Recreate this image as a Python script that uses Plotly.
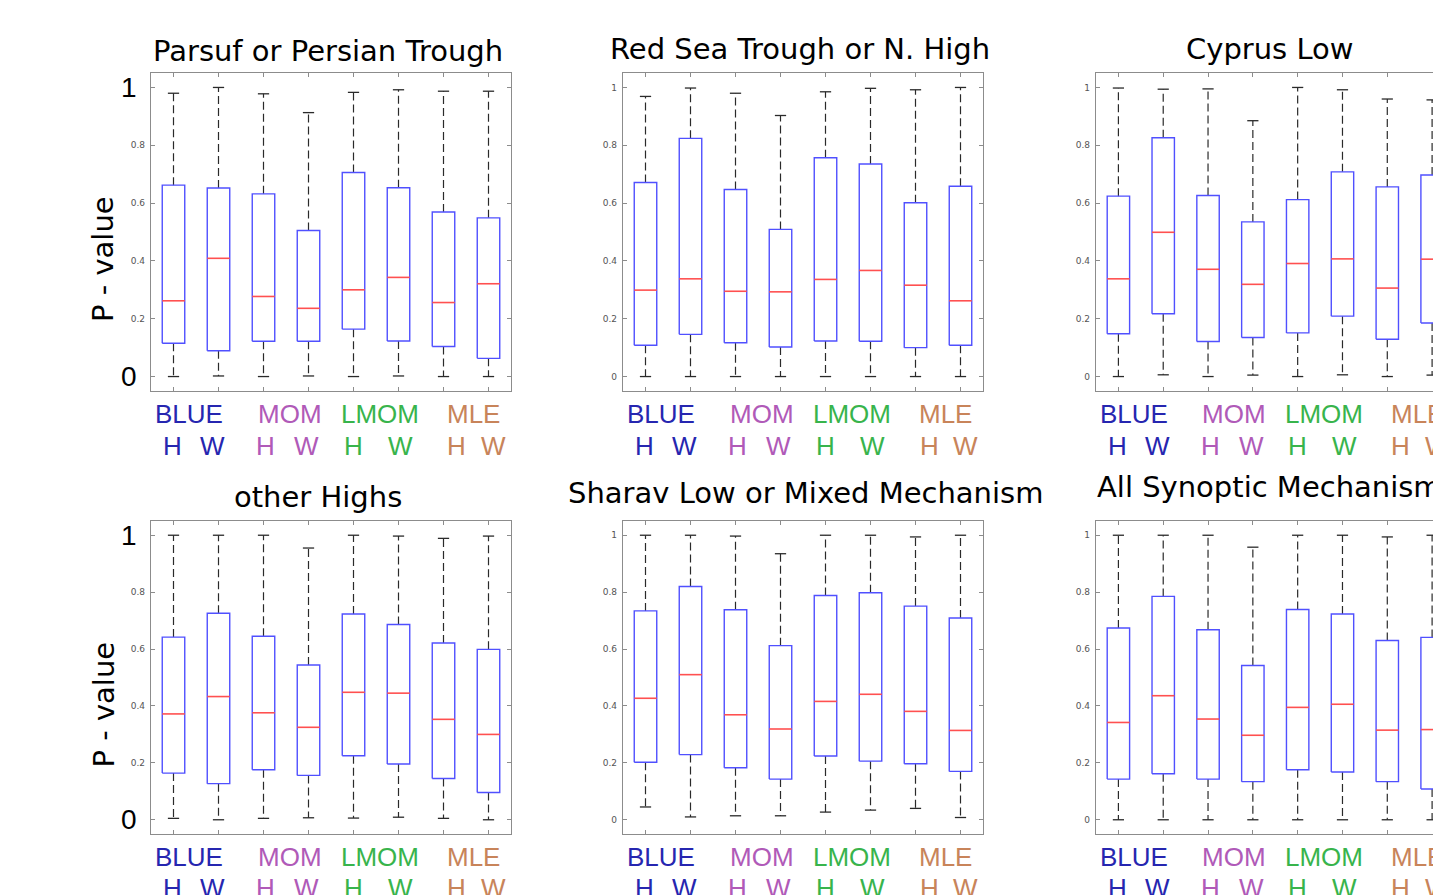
import plotly.graph_objects as go

# ---------------- data ----------------
TITLES = ["Parsuf or Persian Trough", "Red Sea Trough or N. High", "Cyprus Low",
          "other Highs", "Sharav Low or Mixed Mechanism", "All Synoptic Mechanisms"]
METHODS = ["BLUE", "MOM", "LMOM", "MLE"]
SUBLABELS = ["H", "W"]
POSITIONS = [1, 2, 3, 4, 5, 6, 7, 8]
Y_TICKS = [0, 0.2, 0.4, 0.6, 0.8, 1]
Y_TICK_TEXT = ["0", "0.2", "0.4", "0.6", "0.8", "1"]

# Parsuf or Persian Trough
P1_UPPER = [0.980, 1.000, 0.978, 0.913, 0.983, 0.992, 0.987, 0.987]
P1_Q3 = [0.662, 0.652, 0.632, 0.505, 0.706, 0.653, 0.569, 0.549]
P1_MEDIAN = [0.262, 0.409, 0.277, 0.236, 0.300, 0.343, 0.256, 0.321]
P1_Q1 = [0.115, 0.089, 0.122, 0.122, 0.164, 0.123, 0.104, 0.063]
P1_LOWER = [0.000, 0.002, 0.000, 0.002, 0.000, 0.002, 0.000, 0.000]

# Red Sea Trough or N. High
P2_UPPER = [0.969, 0.998, 0.980, 0.903, 0.985, 0.997, 0.992, 1.000]
P2_Q3 = [0.671, 0.824, 0.647, 0.509, 0.757, 0.735, 0.601, 0.658]
P2_MEDIAN = [0.299, 0.338, 0.295, 0.293, 0.336, 0.367, 0.316, 0.262]
P2_Q1 = [0.108, 0.146, 0.117, 0.102, 0.123, 0.122, 0.100, 0.108]
P2_LOWER = [0.000, 0.000, 0.000, 0.000, 0.000, 0.000, 0.000, 0.000]

# Cyprus Low
P3_UPPER = [0.998, 0.994, 0.995, 0.885, 1.000, 0.992, 0.960, 0.957]
P3_Q3 = [0.624, 0.826, 0.626, 0.535, 0.612, 0.708, 0.656, 0.697]
P3_MEDIAN = [0.338, 0.499, 0.371, 0.319, 0.391, 0.407, 0.306, 0.406]
P3_Q1 = [0.148, 0.217, 0.121, 0.135, 0.151, 0.209, 0.129, 0.185]
P3_LOWER = [0.000, 0.006, 0.000, 0.005, 0.000, 0.006, 0.000, 0.005]

# other Highs
P4_UPPER = [1.000, 1.000, 1.000, 0.955, 1.000, 0.997, 0.989, 0.997]
P4_Q3 = [0.642, 0.726, 0.645, 0.544, 0.723, 0.686, 0.621, 0.599]
P4_MEDIAN = [0.372, 0.433, 0.376, 0.325, 0.448, 0.445, 0.353, 0.300]
P4_Q1 = [0.164, 0.127, 0.176, 0.156, 0.225, 0.196, 0.145, 0.096]
P4_LOWER = [0.005, 0.000, 0.005, 0.007, 0.006, 0.009, 0.005, 0.000]

# Sharav Low or Mixed Mechanism
P5_UPPER = [1.000, 1.000, 0.997, 0.935, 1.000, 1.000, 0.994, 1.000]
P5_Q3 = [0.734, 0.820, 0.738, 0.612, 0.788, 0.798, 0.751, 0.709]
P5_MEDIAN = [0.427, 0.510, 0.369, 0.319, 0.416, 0.441, 0.381, 0.314]
P5_Q1 = [0.202, 0.229, 0.183, 0.143, 0.224, 0.206, 0.197, 0.170]
P5_LOWER = [0.045, 0.010, 0.014, 0.014, 0.027, 0.034, 0.040, 0.008]

# All Synoptic Mechanisms
P6_UPPER = [1.000, 1.000, 1.000, 0.958, 1.000, 1.000, 0.994, 1.000]
P6_Q3 = [0.674, 0.785, 0.668, 0.542, 0.739, 0.723, 0.630, 0.641]
P6_MEDIAN = [0.342, 0.436, 0.354, 0.297, 0.395, 0.406, 0.315, 0.317]
P6_Q1 = [0.143, 0.162, 0.143, 0.134, 0.176, 0.168, 0.134, 0.108]
P6_LOWER = [0.000, 0.000, 0.000, 0.000, 0.000, 0.000, 0.000, 0.000]

PANELS = [
    (P1_UPPER, P1_Q3, P1_MEDIAN, P1_Q1, P1_LOWER),
    (P2_UPPER, P2_Q3, P2_MEDIAN, P2_Q1, P2_LOWER),
    (P3_UPPER, P3_Q3, P3_MEDIAN, P3_Q1, P3_LOWER),
    (P4_UPPER, P4_Q3, P4_MEDIAN, P4_Q1, P4_LOWER),
    (P5_UPPER, P5_Q3, P5_MEDIAN, P5_Q1, P5_LOWER),
    (P6_UPPER, P6_Q3, P6_MEDIAN, P6_Q1, P6_LOWER),
]

# ---------------- style / layout ----------------
W, H = 1433, 895
FONT = "Arial, Liberation Sans, sans-serif"
TITLE_FONT = "DejaVu Sans, Arial, sans-serif"
METHOD_COLORS = ["#2626b0", "#b05ab8", "#38b44c", "#c8845a"]
BOX_COLOR = "#5050ff"
MED_COLOR = "#ff5050"
WHISK_COLOR = "#2a2a2a"
FRAME_COLOR = "#8c8c8c"
BOX_HALF = 0.25
CAP_HALF = 0.125

COL_PX = [(151, 511), (623, 983), (1096, 1433)]
COL_RANGE = [(0.5, 8.5), (0.5, 8.5), (0.5, 8.02)]
ROW_PX = [(73, 391), (521, 834)]
TITLE_POS = [(328, 51, "center"), (800, 49, "center"), (1270, 49, "center"),
             (318, 497, "center"), (805, 493, "center"), (1095, 487, "left")]
GROUP_X = [1.34, 3.58, 5.59, 7.67]
SUB_X = [0.98, 1.87, 3.05, 3.96, 5.0, 6.05, 7.3, 8.12]
ROW_LABEL_Y = [(414, 446), (857, 888)]


def px_x(x):
    return x / W


def px_y(y):
    return 1 - y / H


fig = go.Figure()
annotations = []
layout_axes = {}

for i, (upper, q3, med, q1, lower) in enumerate(PANELS):
    r, c = divmod(i, 3)
    xa = "x" if i == 0 else f"x{i + 1}"
    ya = "y" if i == 0 else f"y{i + 1}"
    xkey = "xaxis" if i == 0 else f"xaxis{i + 1}"
    ykey = "yaxis" if i == 0 else f"yaxis{i + 1}"

    wx, wy, cx, cy, bx, by, mx, my = [], [], [], [], [], [], [], []
    for p, u, a, m, b, lo in zip(POSITIONS, upper, q3, med, q1, lower):
        wx += [p, p, None, p, p, None]
        wy += [a, u, None, b, lo, None]
        cx += [p - CAP_HALF, p + CAP_HALF, None, p - CAP_HALF, p + CAP_HALF, None]
        cy += [u, u, None, lo, lo, None]
        bx += [p - BOX_HALF, p + BOX_HALF, p + BOX_HALF, p - BOX_HALF, p - BOX_HALF, None]
        by += [b, b, a, a, b, None]
        mx += [p - BOX_HALF, p + BOX_HALF, None]
        my += [m, m, None]

    common = dict(mode="lines", xaxis=xa, yaxis=ya, hoverinfo="skip", showlegend=False)
    fig.add_trace(go.Scatter(x=wx, y=wy, line=dict(color=WHISK_COLOR, width=1.2, dash="8px,4px"), **common))
    fig.add_trace(go.Scatter(x=cx, y=cy, line=dict(color=WHISK_COLOR, width=1.3), **common))
    fig.add_trace(go.Scatter(x=bx, y=by, line=dict(color=BOX_COLOR, width=1.4), **common))
    fig.add_trace(go.Scatter(x=mx, y=my, line=dict(color=MED_COLOR, width=1.6), **common))

    x0, x1 = COL_PX[c]
    y0, y1 = ROW_PX[r]
    r0, r1 = COL_RANGE[c]
    unit_px = (x1 - x0) / (r1 - r0)
    big_labels = (c == 0)
    layout_axes[xkey] = dict(
        domain=[px_x(x0), px_x(x1)], range=[r0, r1], anchor=ya,
        showline=True, linecolor=FRAME_COLOR, linewidth=1.3, mirror="ticks",
        ticks="inside", ticklen=4, tickcolor=FRAME_COLOR, tickvals=POSITIONS,
        showticklabels=False, showgrid=False, zeroline=False,
    )
    layout_axes[ykey] = dict(
        domain=[px_y(y1), px_y(y0)], range=[-0.05, 1.05], anchor=xa,
        showline=True, linecolor=FRAME_COLOR, linewidth=1.3,
        mirror=("ticks" if c < 2 else False),
        ticks="inside", ticklen=4, tickcolor=FRAME_COLOR, tickvals=Y_TICKS,
        ticktext=[("" if big_labels and t in ("0", "1") else t) for t in Y_TICK_TEXT],
        tickfont=dict(family="DejaVu Sans", size=9, color="#555555"),
        ticklabelstandoff=3, showgrid=False, zeroline=False,
    )

    def label_x(pos):
        # position along this panel's x scale, expressed on the page
        return px_x(x0 + (pos - r0) * unit_px)

    # title
    tx, ty, anc = TITLE_POS[i]
    annotations.append(dict(text=TITLES[i], xref="paper", yref="paper", x=px_x(tx), y=px_y(ty),
                            xanchor=anc, yanchor="middle", showarrow=False,
                            font=dict(family=TITLE_FONT, size=29, color="black")))

    # method labels
    gy, sy = ROW_LABEL_Y[r]
    for k, name in enumerate(METHODS):
        annotations.append(dict(text=name, xref="paper", yref="paper", x=label_x(GROUP_X[k]), y=px_y(gy),
                                xanchor="center", yanchor="middle", showarrow=False,
                                font=dict(family=FONT, size=26, color=METHOD_COLORS[k])))
        for j, s in enumerate(SUBLABELS):
            annotations.append(dict(text=s, xref="paper", yref="paper", x=label_x(SUB_X[2 * k + j]),
                                    y=px_y(sy), xanchor="center", yanchor="middle", showarrow=False,
                                    font=dict(family=FONT, size=26, color=METHOD_COLORS[k])))

    if big_labels:
        for val, txt in ((1, "1"), (0, "0")):
            annotations.append(dict(text=txt, xref="paper", yref=ya, x=px_x(139), y=val,
                                    xanchor="right", yanchor="middle", showarrow=False,
                                    font=dict(family=FONT, size=28, color="black")))
        annotations.append(dict(text="P - value", xref="paper", yref="paper",
                                x=px_x(103), y=px_y((y0 + y1) / 2 + 27), textangle=-90,
                                xanchor="center", yanchor="middle", showarrow=False,
                                font=dict(family=TITLE_FONT, size=29, color="black")))

fig.update_layout(
    width=W, height=H, margin=dict(l=0, r=0, t=0, b=0),
    paper_bgcolor="white", plot_bgcolor="white", showlegend=False,
    annotations=annotations, **layout_axes,
)

fig.write_html("out.html", config={"displayModeBar": False},
               post_script="document.body.style.margin='0';document.body.style.overflow='hidden';")
